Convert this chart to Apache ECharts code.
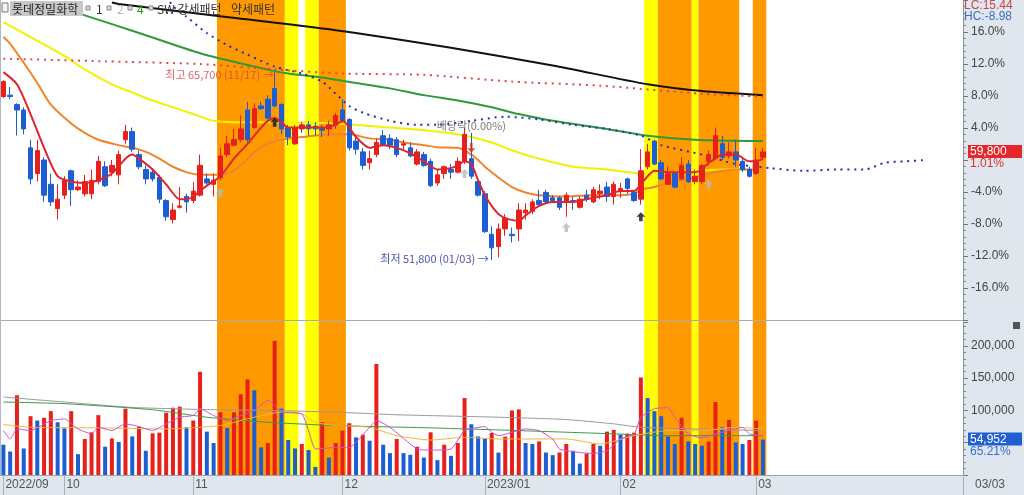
<!DOCTYPE html>
<html><head><meta charset="utf-8">
<script src="https://cdn.jsdelivr.net/npm/echarts@6/dist/echarts.min.js"></script>
<style>html,body{margin:0;padding:0;background:#dfe6ee}#c{width:1024px;height:495px}</style>
</head><body><div id="c"></div>
<script>
// ---------- data ----------
const stockName = '롯데정밀화학';
const tickIndex = [0, 9, 28, 50, 71, 91, 111];
const tickLabels = ['2022/09', '10', '11', '12', '2023/01', '02', '03'];
const lastDateLabel = '03/03';
const slotCount = 142; // trading days + future slots on the axis

const open = [63900,64000,63300,62900,60100,58200,59200,57400,55600,56600,58400,57000,56700,56700,57600,58700,58300,58100,60700,61300,59600,58500,58300,57900,56200,54800,55700,56500,56200,56600,57800,57400,57900,59600,60300,60700,62900,61600,63200,63700,64500,63300,61600,60400,61500,61800,61700,61600,61500,61800,62900,62200,60600,59800,59000,59600,61000,60800,60700,60300,60100,58900,59600,59100,57500,58200,58500,58300,59100,59300,57600,56700,53700,52800,54100,53700,54100,55300,55400,56200,56800,56400,56400,56100,56200,55700,56600,56100,56700,57200,56500,56900,57800,56800,56300,58700,60600,59000,57400,58200,57800,58900,57600,57600,59100,59400,60400,59500,59800,59100,58500,58200,59400];
const close = [65000,63900,62900,61500,57800,59900,56600,56100,56300,57700,57000,57200,57600,57700,59100,57300,58800,59600,61300,60000,58700,57800,57800,56300,55000,55500,55800,56100,56900,58800,57500,57700,59500,60400,60700,61500,60700,63000,63000,62300,63200,61500,60900,61600,61800,61500,61500,61400,61800,62500,62100,60100,60000,58800,59300,60500,60300,60300,59600,60400,59500,59800,58800,57300,58100,58700,58300,59100,61100,58000,56600,53900,52700,54100,54900,53600,55500,55500,56100,55900,56100,56200,55700,56600,56100,56300,56300,57000,56900,56500,57400,57100,57100,56200,58400,59800,58900,57800,58200,57200,58800,57600,58000,58800,59600,61000,59400,59800,59200,58500,58000,59200,59800];
const high = [65100,64600,63400,63100,60700,60700,59400,58200,57400,58000,58500,57700,58100,58500,59500,59100,59200,59900,61800,61600,59900,58800,58600,58100,56300,56000,57200,56700,57600,59600,58200,58200,60100,61000,61500,62500,63500,63400,63500,64000,65700,63400,61800,61800,62000,62100,62000,61800,62100,62700,63700,62300,60900,60100,59900,60800,61400,61100,60900,60700,60500,60000,59800,59300,58500,58800,58900,59400,61600,61200,57700,56900,54300,54500,55200,54200,56000,56000,56300,57000,57000,56600,56500,56800,56500,56500,57000,57200,57400,57600,57600,57500,57900,57000,60000,60400,60700,59200,58700,58300,59400,59200,58500,58900,59900,61600,61000,60500,60700,59300,58700,60100,60100];
const low = [63800,63700,61000,61100,57400,57600,56100,55800,54800,56300,55800,56900,56500,56300,57400,57200,58000,57400,60400,59800,58500,57400,57600,56000,54700,54500,55600,55300,56000,56500,57400,56500,57700,59400,60200,60500,60500,61500,62900,62200,63100,61100,60300,60300,61200,61000,61000,60900,61000,61500,62000,59900,59600,58500,58500,59400,60200,60000,59400,59900,59400,58800,58700,57200,57300,57800,57800,58200,58900,57800,56500,53800,51800,52000,53600,53100,53200,54800,55200,55900,56000,56000,55500,55000,55500,55600,56100,56000,56300,56100,55900,56400,56700,56100,55900,58500,58800,57700,57400,57100,57700,57500,57400,57400,58800,59300,59200,59300,58700,58300,57900,58100,59300];
const volume = [46900,36400,123400,41100,91100,84400,88600,98900,81700,72300,98900,32300,55800,66100,92700,43800,56700,51100,102700,59800,74500,37500,64500,65600,96400,104200,105800,73900,84400,159800,67200,49500,97300,73000,97300,125000,148000,131300,42700,49500,207800,102700,54200,41100,48000,38600,12500,81700,27000,49500,68800,80200,58300,62500,53100,171900,46900,33900,55800,33900,31300,43800,27000,66100,23000,46900,29700,49500,119200,78600,59800,56700,65200,34800,59400,100000,101600,49500,48000,52000,34800,30800,34800,48000,37500,17700,33300,48000,45300,67200,69800,62500,64000,65600,151100,119200,98900,91100,59800,48000,88600,52000,48000,45300,52000,113000,73900,85500,50500,48000,54200,84270,54952];
const prevClose = 59200;

// moving averages: [bar index, price]
const ma5 = [[0,65700],[2,64800],[4,62600],[6,60100],[8,58000],[10,57600],[12,57500],[14,57700],[16,58200],[18,59300],[19,59600],[20,59300],[22,58500],[24,57400],[26,56300],[27,56300],[28,56500],[30,57300],[32,58000],[34,59300],[36,60400],[38,61600],[39,62100],[40,62300],[41,62000],[42,61600],[44,61600],[47,61600],[49,61800],[50,62100],[52,60900],[54,60100],[56,60300],[58,60100],[60,59700],[62,59100],[64,58500],[66,58600],[67,58800],[68,59100],[69,58900],[70,57700],[71,56600],[72,55800],[73,55200],[74,54900],[76,54700],[77,55100],[79,55800],[81,56100],[84,56100],[86,56300],[89,56600],[91,56900],[93,56900],[94,57400],[95,58000],[96,58400],[98,58300],[100,58300],[102,58300],[103,58500],[104,59000],[105,59300],[106,59600],[108,59600],[110,59100],[111,59100],[112,59300]];
const ma20 = [[0,68300],[1,67800],[3,66400],[5,64900],[7,63300],[10,61900],[12,61200],[14,60700],[17,60300],[19,60100],[21,59800],[23,59300],[25,58700],[27,58300],[29,58100],[31,58100],[33,58200],[35,58800],[37,59800],[39,60400],[41,60700],[44,60900],[49,61100],[51,61100],[54,60800],[57,60700],[59,60500],[62,60300],[64,60150],[67,60100],[69,59600],[70,59200],[71,58700],[73,57900],[75,57200],[77,56800],[79,56600],[83,56500],[87,56600],[91,56600],[93,56700],[94,57000],[96,57200],[98,57500],[100,57700],[102,57900],[104,58200],[106,58400],[109,58500],[112,58500]];
const ma60 = [[0,69400],[4,68300],[9,66900],[12,65900],[16,64800],[19,64200],[22,63600],[25,63100],[28,62600],[31,62100],[34,62000],[40,62000],[49,61900],[57,61600],[62,61400],[67,61100],[72,60500],[75,59900],[79,59300],[84,58700],[89,58500],[94,58200],[100,58300],[106,58500],[112,58500]];
const ma120 = [[6,70900],[7,70700],[12,69900],[20,68600],[29,67100],[38,66000],[42,65600],[47,65300],[52,64900],[57,64500],[62,64000],[67,63600],[72,63100],[76,62600],[81,62100],[89,61500],[95,61000],[102,60700],[112,60600]];
const ma240 = [[16,70850],[17,70750],[31,69900],[49,68800],[66,67500],[81,66200],[95,64800],[103,64300],[112,64000]];
const redDotLine = [[0,66700],[15,66500],[29,66300],[40,65900],[50,65600],[62,65500],[75,65000],[88,64700],[103,64100],[112,63900]];
const blueDotLine = [[24,71300],[25,70600],[27,69800],[30,68600],[33,67700],[36,67000],[40,66100],[44,65600],[47,65000],[49,64100],[51,63200],[53,62700],[57,62100],[61,61800],[64,61800],[69,62100],[74,62400],[79,62200],[84,61800],[89,61500],[94,61000],[97,60300],[103,59600],[108,58900],[113,58600],[118,58400],[123,58500],[127,58500],[130,59000],[133,59100],[136,59200]];

// volume averages: [bar index, shares]
const volGray = [[0,120800],[9,113000],[19,104700],[29,101600],[39,100000],[49,97300],[58,93300],[73,89500],[83,85900],[90,79200],[94,73900],[112,68800]];
const volGreen = [[0,113000],[9,110500],[22,101100],[30,89500],[39,81700],[49,76600],[63,73000],[73,69800],[88,64500],[98,60900],[112,60900]];
const volYellow = [[0,78100],[4,73900],[14,73000],[24,71400],[32,76600],[36,87000],[41,97300],[44,94800],[46,81700],[49,76600],[54,73900],[58,60900],[63,54200],[68,58300],[73,55800],[83,55800],[88,48000],[93,60900],[98,68800],[103,68800],[108,73900],[112,71400]];
const volMagenta = [[0,68800],[1,55800],[2,71400],[4,68800],[7,84400],[9,87000],[11,71400],[13,63600],[14,73900],[16,68800],[18,79200],[20,75000],[22,68800],[24,79200],[26,89500],[28,92200],[29,102700],[31,92200],[33,84400],[35,92200],[37,100000],[39,115600],[40,107800],[41,97300],[44,94800],[45,68800],[46,40200],[49,42700],[51,42700],[54,73900],[55,84400],[57,73900],[61,40200],[63,38600],[66,40200],[68,68800],[71,75000],[72,66100],[73,60900],[77,71400],[79,68800],[81,55800],[82,40200],[85,34800],[87,33300],[89,37500],[91,55800],[93,63600],[94,89500],[96,102700],[98,104200],[99,89500],[101,63600],[103,57300],[105,63600],[107,68800],[109,73900],[110,63600],[112,60900]];

// pattern bands
const bandStart = [32, 42, 45, 47, 95, 97, 102, 103, 111];
const bandEnd   = [41, 43, 46, 50, 96, 101, 102, 108, 112];
const bandKind  = ['strong','weak','weak','strong','weak','strong','weak','strong','strong'];

// signal markers
const blackUpIdx = [40, 94];      const blackUpVal = [62000, 55000];
const grayUpIdx = [32, 68, 83, 104]; const grayUpVal = [56800, 58200, 54200, 57400];
const redDownIdx = [69];          const redDownVal = [60100];

const highIdx = 40, highDate = '11/17';
const lowIdx = 72, lowDate = '01/03';
const exDivIdx = 69;

// ---------- chart ----------
const RED = '#e8201c', BLUE = '#1d5fd3';
const NARROW = '"Liberation Sans Narrow","Liberation Sans",Arial,sans-serif';
const KR = '"Noto Sans CJK KR",sans-serif';
const cats = Array.from({length: slotCount}, (_, i) => String(i));
const fmt = n => n.toLocaleString('en-US');
const n = close.length;
const lastClose = close[n - 1];
const highVal = Math.max(...high), lowVal = Math.min(...low);
const basePct = 0.04 * prevClose;

const isTick = i => tickIndex.indexOf(i) >= 0;
const chart = echarts.init(document.getElementById('c'), null, {renderer: 'canvas'});

const lineS = (data, color, width, xi, yi, extra) => Object.assign({
  type: 'line', data, xAxisIndex: xi, yAxisIndex: yi, showSymbol: false, symbol: 'none',
  smooth: 0.25, silent: true, lineStyle: {color, width}, z: 3
}, extra || {});

const arrowUp = 'path://M5,0 L10,5 L7,5 L7,10 L3,10 L3,5 L0,5 Z';
const arrowDown = 'path://M3.5,0 L6.5,0 L6.5,6 L10,6 L5,11 L0,6 L3.5,6 Z';

const valueBox = (val, sub, bg, subColor) => ({
  silent: true, symbol: 'none',
  lineStyle: {color: 'rgba(0,0,0,0)', width: 1, opacity: 1},
  data: [{yAxis: val}],
  label: {show: true, position: 'end', distance: 5, offset: [0, 6],
    formatter: '{a|' + fmt(val) + '}\n{b|' + sub + '}',
    rich: {a: {color: '#fff', backgroundColor: bg, width: 52, padding: [1, 0, 0, 2], fontSize: 12, lineHeight: 12, fontFamily: NARROW},
           b: {color: subColor, fontSize: 12, lineHeight: 13, padding: [0, 0, 0, 2], fontFamily: NARROW}}}
});

const option = {
  animation: false,
  backgroundColor: '#dfe6ee',
  grid: [
    {left: 0, right: 61, top: 0, height: 475, show: true, backgroundColor: '#ffffff', borderWidth: 0},
    {left: 0, right: 61, top: -4, height: 324},
    {left: 0, right: 61, top: 322, height: 153}
  ],
  xAxis: [
    {gridIndex: 0, type: 'category', data: cats, show: false},
    {gridIndex: 1, type: 'category', data: cats, show: false},
    {gridIndex: 2, type: 'category', data: cats,
      axisLine: {show: true, lineStyle: {color: '#9aa5b4'}},
      axisTick: {show: true, alignWithLabel: true, length: 20, interval: (i) => isTick(i), lineStyle: {color: '#a9b3c0'}},
      axisLabel: {interval: (i) => isTick(i), formatter: (v, i) => tickLabels[tickIndex.indexOf(+v)] || '',
        align: 'left', margin: 4, padding: [0, 0, 0, 2], color: '#555', fontSize: 12, fontFamily: NARROW}
    }
  ],
  yAxis: [
    {gridIndex: 0, type: 'value', min: 0, max: 1, show: false},
    {gridIndex: 1, type: 'value', position: 'right', min: prevClose * 0.8, max: prevClose * 1.2, interval: basePct,
      splitLine: {show: false},
      axisLine: {show: true, lineStyle: {color: '#8c96a2'}},
      axisTick: {show: true, length: 5, lineStyle: {color: '#7a7a7a'}},
      minorTick: {show: true, splitNumber: 5, length: 3, lineStyle: {color: '#8a8a8a'}},
      axisLabel: {margin: 8, color: '#444', fontSize: 12, fontFamily: NARROW,
        formatter: v => { const p = Math.round((v / prevClose - 1) * 1000) / 10; return (Math.abs(p) < 1 || Math.abs(p) > 17) ? '' : p.toFixed(1) + '%'; }}
    },
    {gridIndex: 2, type: 'value', position: 'right', min: 0, max: 237000, interval: 50000,
      splitLine: {show: false},
      axisLine: {show: true, lineStyle: {color: '#8c96a2'}},
      axisTick: {show: true, length: 5, lineStyle: {color: '#7a7a7a'}},
      minorTick: {show: true, splitNumber: 5, length: 3, lineStyle: {color: '#8a8a8a'}},
      axisLabel: {margin: 8, color: '#444', fontSize: 12, fontFamily: NARROW, showMaxLabel: false,
        formatter: v => (v >= 100000 && v % 50000 === 0) ? fmt(v) : ''}
    }
  ],
  series: [
    {type: 'custom', xAxisIndex: 0, yAxisIndex: 0, silent: true, z: 1,
      data: bandStart.map((s, i) => [s, bandEnd[i], bandKind[i] === 'strong' ? 0 : 1]),
      renderItem: (params, api) => {
        const s = api.coord([api.value(0), 0]);
        const e = api.coord([api.value(1), 1]);
        const w = api.size([1, 0])[0];
        return {type: 'rect', shape: {x: s[0] - w / 2, y: e[1], width: e[0] - s[0] + w, height: s[1] - e[1]},
          style: {fill: api.value(2) === 0 ? '#ff9900' : '#ffff00'}};
      }
    },
    lineS(ma240, '#111111', 2, 1, 1),
    lineS(ma120, '#2e9a3a', 2, 1, 1),
    lineS(ma60, '#f2f200', 2, 1, 1),
    lineS(ma20, '#f0842a', 2, 1, 1),
    lineS(redDotLine, '#e04848', 2, 1, 1, {lineStyle: {color: '#e04848', width: 2, type: [2, 4.78]}}),
    lineS(blueDotLine, '#2b2bb5', 2, 1, 1, {lineStyle: {color: '#2b2bb5', width: 2, type: [2, 4.78]}}),
    {type: 'candlestick', xAxisIndex: 1, yAxisIndex: 1, barWidth: 5, z: 4,
      data: open.map((o, i) => [o, close[i], low[i], high[i]]),
      itemStyle: {color: RED, color0: BLUE, borderColor: RED, borderColor0: BLUE, borderWidth: 1},
      markLine: valueBox(lastClose, ((lastClose / prevClose - 1) * 100).toFixed(2) + '%', '#e5262a', '#e03030')
    },
    lineS(ma5, '#e0242b', 2, 1, 1, {z: 5}),
    {type: 'scatter', xAxisIndex: 1, yAxisIndex: 1, symbol: arrowUp, symbolSize: [9, 9], z: 6, silent: true,
      itemStyle: {color: '#111'}, data: blackUpIdx.map((x, i) => [x, blackUpVal[i]])},
    {type: 'scatter', xAxisIndex: 1, yAxisIndex: 1, symbol: arrowUp, symbolSize: [9, 9], z: 6, silent: true,
      itemStyle: {color: '#b9b9b9'}, data: grayUpIdx.map((x, i) => [x, grayUpVal[i]])},
    {type: 'scatter', xAxisIndex: 1, yAxisIndex: 1, symbol: arrowDown, symbolSize: [8, 10], z: 6, silent: true,
      itemStyle: {color: '#e5201c'}, data: redDownIdx.map((x, i) => [x, redDownVal[i]])},
    {type: 'scatter', xAxisIndex: 1, yAxisIndex: 1, symbolSize: 0, z: 7, silent: true,
      data: [
        {value: [highIdx, highVal], label: {show: true, position: 'left', distance: 1, offset: [0, 3],
          formatter: '최고 ' + fmt(highVal) + ' (' + highDate + ') →', color: '#d9404a', fontSize: 11, fontFamily: KR}},
        {value: [lowIdx, lowVal], label: {show: true, position: 'left', distance: 3, offset: [0, -1],
          formatter: '최저 ' + fmt(lowVal) + ' (' + lowDate + ') →', color: '#2323a8', fontSize: 11, fontFamily: KR}},
        {value: [exDivIdx, high[exDivIdx]], label: {show: true, position: 'top', distance: 0, offset: [0, -2],
          formatter: '배당락(0.00%)', color: '#555', fontSize: 11, fontFamily: KR}}
      ]
    },
    {type: 'bar', xAxisIndex: 2, yAxisIndex: 2, barWidth: 4, z: 3,
      data: volume.map((v, i) => ({value: v, itemStyle: {color: (i > 0 && v > volume[i - 1]) ? RED : BLUE}})),
      markLine: valueBox(volume[n - 1], (volume[n - 1] / volume[n - 2] * 100).toFixed(2) + '%', '#1f5fd0', '#3a6fd0')
    },
    lineS(volGray, '#9a9a9a', 1, 2, 2, {smooth: 0.2, z: 4}),
    lineS(volGreen, '#3a9a4a', 1, 2, 2, {smooth: 0.2, z: 4}),
    lineS(volYellow, '#f0b838', 1, 2, 2, {smooth: 0.2, z: 4}),
    lineS(volMagenta, '#d24fd2', 1, 2, 2, {smooth: 0.15, z: 4})
  ],
  graphic: [
    {type: 'line', z: 100, shape: {x1: 0, y1: 320.5, x2: 963, y2: 320.5}, style: {stroke: '#a3acb8', lineWidth: 1}},
    {type: 'line', z: 100, shape: {x1: 0.5, y1: 0, x2: 0.5, y2: 475}, style: {stroke: '#b0b8c4', lineWidth: 1}},
    {type: 'rect', z: 100, shape: {x: 2, y: 3, width: 6, height: 9}, style: {fill: '#f4f4f4', stroke: '#777', lineWidth: 1}},
    {type: 'rect', z: 100, shape: {x: 10, y: 1, width: 73, height: 15}, style: {fill: '#c8c8c8'}},
    {type: 'text', z: 101, x: 12, y: 9, style: {text: stockName, font: '12px ' + KR, fill: '#222', verticalAlign: 'middle'}},
    {type: 'rect', z: 100, shape: {x: 86, y: 6, width: 4, height: 4}, style: {fill: '#ddd', stroke: '#888'}},
    {type: 'text', z: 101, x: 96, y: 9, style: {text: '1', font: '12px ' + KR, fill: '#333', verticalAlign: 'middle'}},
    {type: 'rect', z: 100, shape: {x: 107, y: 6, width: 4, height: 4}, style: {fill: '#ddd', stroke: '#888'}},
    {type: 'text', z: 101, x: 117, y: 9, style: {text: '2', font: '12px ' + KR, fill: '#bbbbbb', verticalAlign: 'middle'}},
    {type: 'rect', z: 100, shape: {x: 128, y: 6, width: 4, height: 4}, style: {fill: '#ddd', stroke: '#888'}},
    {type: 'text', z: 101, x: 137, y: 9, style: {text: '4', font: '12px ' + KR, fill: '#1fa01f', verticalAlign: 'middle'}},
    {type: 'rect', z: 100, shape: {x: 149, y: 6, width: 4, height: 4}, style: {fill: '#ddd', stroke: '#888'}},
    {type: 'text', z: 101, x: 157, y: 9, style: {text: 'SW 강세패턴', font: '12px ' + KR, fill: '#333', verticalAlign: 'middle'}},
    {type: 'text', z: 101, x: 231, y: 9, style: {text: '약세패턴', font: '12px ' + KR, fill: '#333', verticalAlign: 'middle'}},
    {type: 'text', z: 101, x: 964, y: 6, style: {text: 'LC:' + ((lastClose / lowVal - 1) * 100).toFixed(2), font: '12px ' + NARROW, fill: '#c84848', verticalAlign: 'middle'}},
    {type: 'text', z: 101, x: 964, y: 17, style: {text: 'HC:' + ((lastClose / highVal - 1) * 100).toFixed(2), font: '12px ' + NARROW, fill: '#3f6fc4', verticalAlign: 'middle'}},
    {type: 'rect', z: 100, shape: {x: 1013, y: 322, width: 7, height: 7}, style: {fill: '#555'}},
    {type: 'line', z: 100, shape: {x1: 963.5, y1: 475, x2: 963.5, y2: 495}, style: {stroke: '#a9b3c0', lineWidth: 1}},
    {type: 'text', z: 101, x: 975, y: 485, style: {text: lastDateLabel, font: '12px ' + NARROW, fill: '#555', verticalAlign: 'middle'}}
  ]
};
chart.setOption(option);
</script></body></html>
